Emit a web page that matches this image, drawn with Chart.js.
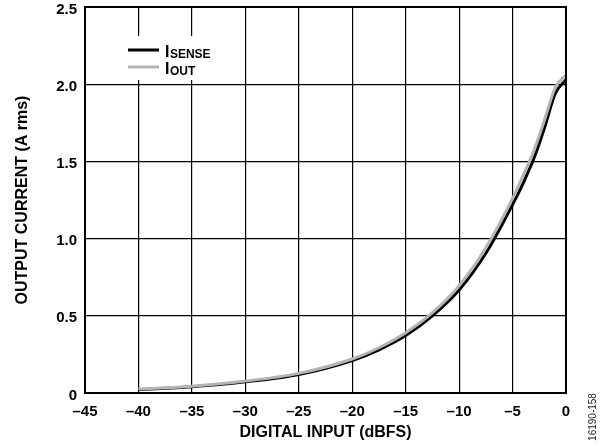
<!DOCTYPE html>
<html>
<head>
<meta charset="utf-8">
<script src="https://cdn.jsdelivr.net/npm/chart.js@4/dist/chart.umd.min.js"></script>
<style>
  html, body { margin: 0; padding: 0; background: #fff; }
  #wrap { width: 607px; height: 448px; position: relative; }
</style>
</head>
<body>
<div id="wrap"><canvas id="c" width="607" height="448"></canvas></div>
<script>
// ---- data ----
const xValues = [-40, -35, -30, -25, -20, -17.5, -15, -12.5, -10, -7.5, -5, -4, -3, -2, -1, 0];
const iSense  = [0.022, 0.040, 0.072, 0.120, 0.210, 0.280, 0.372, 0.500, 0.667, 0.905, 1.220, 1.360, 1.520, 1.720, 1.940, 2.030];
const iOut    = [0.026, 0.044, 0.077, 0.127, 0.220, 0.293, 0.390, 0.520, 0.695, 0.940, 1.260, 1.410, 1.570, 1.770, 1.980, 2.060];
const xTickValues = [-45, -40, -35, -30, -25, -20, -15, -10, -5, 0];
const xTickLabels = ['\u201345', '\u201340', '\u201335', '\u201330', '\u201325', '\u201320', '\u201315', '\u201310', '\u20135', '0'];
const yTickValues = [0, 0.5, 1.0, 1.5, 2.0, 2.5];
const yTickLabels = ['0', '0.5', '1.0', '1.5', '2.0', '2.5'];
const seriesNames = [['I', 'SENSE'], ['I', 'OUT']];
const xTitle = 'DIGITAL INPUT (dBFS)';
const yTitle = 'OUTPUT CURRENT (A rms)';
const figureId = '16190-158';

const FONT = '"Liberation Sans", Arial, Helvetica, sans-serif';

const toPts = (ys) => xValues.map((x, i) => ({ x: x, y: ys[i] }));

const legendPlugin = {
  id: 'customLegend',
  afterDatasetsDraw(chart) {
    const ctx = chart.ctx;
    const ca = chart.chartArea;
    ctx.save();
    // white box hiding grid lines
    ctx.fillStyle = '#fff';
    ctx.fillRect(118, 36, 110, 44);
    const items = [
      { color: '#000000', y: 50, name: seriesNames[0] },
      { color: '#b4b4b4', y: 67, name: seriesNames[1] }
    ];
    items.forEach(it => {
      ctx.strokeStyle = it.color;
      ctx.lineWidth = 3;
      ctx.beginPath();
      ctx.moveTo(128, it.y);
      ctx.lineTo(159, it.y);
      ctx.stroke();
      ctx.fillStyle = '#000';
      ctx.textBaseline = 'alphabetic';
      ctx.textAlign = 'left';
      ctx.font = 'bold 16px ' + FONT;
      ctx.fillText(it.name[0], 165, it.y + 6.5);
      const w = ctx.measureText(it.name[0]).width;
      ctx.font = 'bold 12px ' + FONT;
      ctx.fillText(it.name[1], 165 + w + 0.5, it.y + 8);
    });
    // plot frame
    ctx.strokeStyle = '#000';
    ctx.lineWidth = 2;
    ctx.strokeRect(ca.left, ca.top, ca.right - ca.left, ca.bottom - ca.top);
    // figure id
    ctx.save();
    ctx.translate(596, 417);
    ctx.rotate(-Math.PI / 2);
    ctx.font = '10px ' + FONT;
    ctx.fillStyle = '#222';
    ctx.textAlign = 'center';
    ctx.textBaseline = 'alphabetic';
    ctx.fillText(figureId, 0, 0);
    ctx.restore();
    ctx.restore();
  }
};

new Chart(document.getElementById('c'), {
  type: 'line',
  data: {
    datasets: [
      {
        label: 'I_SENSE',
        data: toPts(iSense),
        borderColor: '#000000',
        borderWidth: 3,
        pointRadius: 0,
        cubicInterpolationMode: 'monotone',
        fill: false,
        order: 1
      },
      {
        label: 'I_OUT',
        data: toPts(iOut),
        borderColor: '#b4b4b4',
        borderWidth: 3,
        pointRadius: 0,
        cubicInterpolationMode: 'monotone',
        fill: false,
        order: 0
      }
    ]
  },
  options: {
    responsive: false,
    animation: false,
    devicePixelRatio: 1,
    layout: { padding: { left: 0, top: 7, right: 41, bottom: 0 } },
    plugins: { legend: { display: false }, tooltip: { enabled: false } },
    scales: {
      x: {
        type: 'linear',
        min: -45,
        max: 0,
        afterFit(s) { s.height = 55; s.paddingLeft = 0; s.paddingRight = 0; },
        afterBuildTicks(s) { s.ticks = xTickValues.map(v => ({ value: v })); },
        ticks: {
          padding: 10,
          color: '#000',
          font: { family: FONT, size: 15, weight: 'bold' },
          maxRotation: 0,
          callback(v) { const i = xTickValues.indexOf(v); return i >= 0 ? xTickLabels[i] : ''; }
        },
        grid: { color: '#000', lineWidth: 1.2, drawTicks: false },
        border: { display: false },
        title: {
          display: true,
          text: xTitle,
          color: '#000',
          font: { family: FONT, size: 16, weight: 'bold' },
          padding: { top: 0, bottom: 6 }
        }
      },
      y: {
        type: 'linear',
        min: 0,
        max: 2.5,
        afterFit(s) { s.width = 85; s.paddingTop = 0; s.paddingBottom = 0; },
        afterBuildTicks(s) { s.ticks = yTickValues.map(v => ({ value: v })); },
        ticks: {
          padding: 8,
          labelOffset: 2.5,
          color: '#000',
          font: { family: FONT, size: 15, weight: 'bold' },
          callback(v) { const i = yTickValues.indexOf(v); return i >= 0 ? yTickLabels[i] : ''; }
        },
        grid: { color: '#000', lineWidth: 1.2, drawTicks: false },
        border: { display: false },
        title: {
          display: true,
          text: yTitle,
          color: '#000',
          font: { family: FONT, size: 16, weight: 'bold' },
          padding: { top: 13, bottom: 0 }
        }
      }
    }
  },
  plugins: [legendPlugin]
});
</script>
</body>
</html>
